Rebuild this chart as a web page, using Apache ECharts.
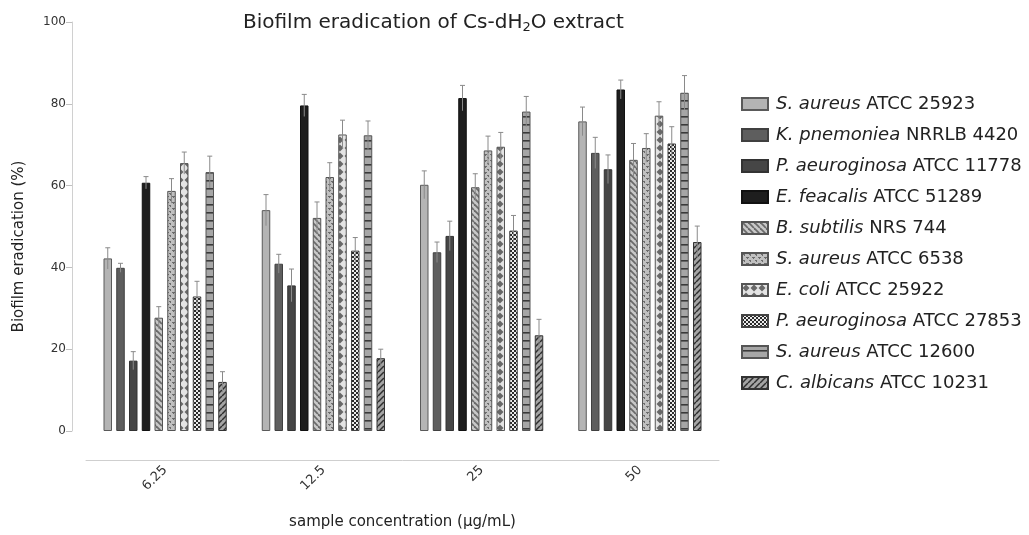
<!DOCTYPE html>
<html><head><meta charset="utf-8">
<script src="https://cdn.jsdelivr.net/npm/echarts@6/dist/echarts.min.js"></script>
<style>html,body{margin:0;padding:0;background:#fff}#c{width:1029px;height:535px}</style>
</head><body><div id="c"></div>
<script>
const categories = ['6.25', '12.5', '25', '50'];
const species = ['S. aureus','K. pnemoniea','P. aeuroginosa','E. feacalis','B. subtilis','S. aureus','E. coli','P. aeuroginosa','S. aureus','C. albicans'];
const strains = ['ATCC 25923','NRRLB 4420','ATCC 11778','ATCC 51289','NRS 744','ATCC 6538','ATCC 25922','ATCC 27853','ATCC 12600','ATCC 10231'];
// values per strain across the 4 concentrations
const vSa25923 = [42.2, 54.0, 60.2, 75.7];
const vKp4420  = [39.9, 40.9, 43.7, 68.0];
const vPa11778 = [17.2, 35.6, 47.7, 64.0];
const vEf51289 = [60.7, 79.6, 81.4, 83.5];
const vBs744   = [27.7, 52.1, 59.6, 66.3];
const vSa6538  = [58.7, 62.1, 68.6, 69.2];
const vEc25922 = [65.5, 72.5, 69.5, 77.1];
const vPa27853 = [32.9, 44.1, 49.0, 70.3];
const vSa12600 = [63.3, 72.3, 78.1, 82.7];
const vCa10231 = [12.0, 17.8, 23.4, 46.2];
// error bar half-lengths (SD)
const eSa25923 = [2.6, 3.8, 3.4, 3.5];
const eKp4420  = [1.1, 2.3, 2.5, 3.8];
const ePa11778 = [2.2, 4.0, 3.6, 3.5];
const eEf51289 = [1.5, 2.7, 3.1, 2.3];
const eBs744   = [2.7, 3.9, 3.3, 4.0];
const eSa6538  = [3.0, 3.5, 3.5, 3.5];
const eEc25922 = [2.7, 3.5, 3.5, 3.4];
const ePa27853 = [3.7, 3.2, 3.7, 4.1];
const eSa12600 = [3.9, 3.5, 3.7, 4.2];
const eCa10231 = [2.5, 2.2, 3.9, 3.9];
const yTicks = [0, 20, 40, 60, 80, 100];

const values = [vSa25923,vKp4420,vPa11778,vEf51289,vBs744,vSa6538,vEc25922,vPa27853,vSa12600,vCa10231];
const errors = [eSa25923,eKp4420,ePa11778,eEf51289,eBs744,eSa6538,eEc25922,ePa27853,eSa12600,eCa10231];
const names = species.map((s,i)=>s+' '+strains[i]);

function pat(w,h,draw){const c=document.createElement('canvas');c.width=w;c.height=h;const g=c.getContext('2d');draw(g,w,h);return {image:c,repeat:'repeat'};}
const fills = [
  '#b4b4b4','#5e5e5e','#464646','#1e1e1e',
  pat(6,6,(g)=>{g.fillStyle='#c8c8c8';g.fillRect(0,0,6,6);g.strokeStyle='#6a6a6a';g.lineWidth=1.8;for(const k of [-6,0,6]){g.beginPath();g.moveTo(k,0);g.lineTo(k+6,6);g.stroke();}}),
  pat(6,6,(g)=>{g.fillStyle='#c0c0c0';g.fillRect(0,0,6,6);g.fillStyle='#6c6c6c';g.fillRect(1,1,2,1);g.fillRect(2,2,1,1);g.fillRect(4,4,2,1);g.fillRect(5,5,1,1);g.fillRect(0,4,1,1);}),
  pat(8,8,(g)=>{g.fillStyle='#e4e4e4';g.fillRect(0,0,8,8);g.fillStyle='#686868';g.beginPath();g.moveTo(4,0.5);g.lineTo(7.5,4);g.lineTo(4,7.5);g.lineTo(0.5,4);g.closePath();g.fill();}),
  pat(4,4,(g)=>{g.fillStyle='#ececec';g.fillRect(0,0,4,4);g.fillStyle='#2a2a2a';g.fillRect(0,0,2,2);g.fillRect(2,2,2,2);}),
  pat(8,8,(g)=>{g.fillStyle='#a6a6a6';g.fillRect(0,0,8,8);g.fillStyle='#3a3a3a';g.fillRect(0,4,8,1.6);}),
  pat(6,6,(g)=>{g.fillStyle='#a4a4a4';g.fillRect(0,0,6,6);g.strokeStyle='#2e2e2e';g.lineWidth=1.5;for(const k of [-6,0,6]){g.beginPath();g.moveTo(k,6);g.lineTo(k+6,0);g.stroke();}})
];
const borders = ['#5a5a5a','#404040','#333','#111','#555','#555','#555','#444','#555','#333'];

const BW = 8.5, GAPR = 0.5, PITCH = BW*(1+GAPR);
const font = 'DejaVu Sans';

const series = [];
values.forEach((v,i)=>{
  series.push({type:'bar',name:names[i],data:v,barWidth:BW,barGap:(GAPR*100)+'%',
    itemStyle:{color:fills[i],borderColor:borders[i],borderWidth:1}});
});
values.forEach((v,i)=>{
  series.push({type:'custom',name:'err'+i,z:5,
    data:v.map((val,j)=>[j,val,errors[i][j]]),
    renderItem:(params,api)=>{
      const cat=api.value(0),val=api.value(1),e=api.value(2);
      const off=(i-4.5)*PITCH;
      const top=api.coord([cat,val+e]),bot=api.coord([cat,val-e]);
      const x=top[0]+off;
      return {type:'group',children:[
        {type:'line',shape:{x1:x,y1:top[1],x2:x,y2:bot[1]},style:{stroke:'#8a8a8a',lineWidth:1}},
        {type:'line',shape:{x1:x-2.5,y1:top[1],x2:x+2.5,y2:top[1]},style:{stroke:'#8a8a8a',lineWidth:1}}
      ]};
    }});
});

const chart = echarts.init(document.getElementById('c'));
chart.setOption({
  animation:false,
  textStyle:{fontFamily:font},
  title:{text:'Biofilm eradication of Cs-dH{sub|2}O extract',left:238,top:6,
    textStyle:{fontFamily:font,fontSize:20,fontWeight:'normal',color:'#222',
      rich:{sub:{fontFamily:font,fontSize:13,color:'#222',padding:[10,0,0,0]}}}},
  legend:{orient:'vertical',left:736,top:89,itemWidth:26,itemHeight:12,itemGap:11,icon:'rect',
    data:names,
    formatter:(n)=>{const i=names.indexOf(n);return '{i|'+species[i]+'} '+strains[i];},
    textStyle:{fontFamily:font,fontSize:18,color:'#222',lineHeight:20,padding:[0,0,0,3],
      rich:{i:{fontFamily:font,fontSize:18,fontStyle:'italic',color:'#222'}}}},
  grid:{left:86,right:310,top:22,bottom:101,containLabel:false},
  xAxis:{type:'category',data:categories,offset:29,
    name:'sample concentration (µg/mL)',nameLocation:'middle',nameGap:55,
    nameTextStyle:{fontFamily:font,fontSize:15,color:'#222'},
    axisLine:{onZero:false,lineStyle:{color:'#cfcfcf'}},
    axisTick:{alignWithLabel:true,length:8,lineStyle:{color:'#cfcfcf'}},
    axisLabel:{rotate:45,fontSize:13,color:'#333',margin:8}},
  yAxis:{type:'value',min:0,max:100,interval:20,offset:14,
    name:'Biofilm eradication (%)',nameLocation:'middle',nameGap:45,
    nameTextStyle:{fontFamily:font,fontSize:15,color:'#222',padding:[0,40,0,0]},
    axisLine:{show:true,lineStyle:{color:'#d0d0d0'}},
    axisTick:{show:true,length:6,lineStyle:{color:'#c0c0c0'}},
    splitLine:{show:false},
    axisLabel:{fontSize:12,color:'#333',margin:6,formatter:(v)=>yTicks.includes(v)?String(v):''}},
  series:series
});
</script></body></html>
